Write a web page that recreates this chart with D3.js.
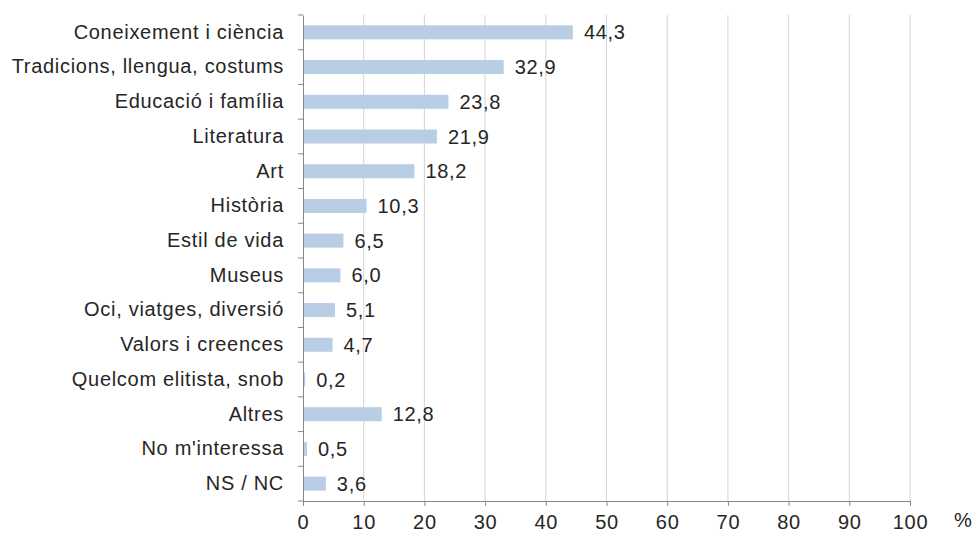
<!DOCTYPE html>
<html>
<head>
<meta charset="utf-8">
<script src="https://cdn.jsdelivr.net/npm/d3@7"></script>
<style>
  body { margin: 0; background: #fff; }
  svg text { font-family: "Liberation Sans", Arial, sans-serif; fill: #262626; letter-spacing: 0.7px; }
</style>
</head>
<body>
<svg id="chart" width="973" height="537"></svg>
<script>
const categories = ["Coneixement i ciència", "Tradicions, llengua, costums", "Educació i família",
  "Literatura", "Art", "Història", "Estil de vida", "Museus", "Oci, viatges, diversió",
  "Valors i creences", "Quelcom elitista, snob", "Altres", "No m'interessa", "NS / NC"]
const values = [44.3, 32.9, 23.8, 21.9, 18.2, 10.3, 6.5, 6.0, 5.1, 4.7, 0.2, 12.8, 0.5, 3.6]
const xTicks = [0, 10, 20, 30, 40, 50, 60, 70, 80, 90, 100]

const plotLeft = 303, plotRight = 910, plotTop = 15, plotBottom = 501
const fontSize = "20px"
const svg = d3.select("#chart")

let xScale = d3.scaleLinear().domain([0, 100]).range([plotLeft, plotRight])
let yScale = d3.scaleBand().domain(categories).range([plotTop, plotBottom])

// gridlines
svg.selectAll(".grid").data(xTicks.slice(1)).enter().append("line")
  .attr("x1", d => xScale(d)).attr("x2", d => xScale(d))
  .attr("y1", plotTop).attr("y2", plotBottom)
  .attr("stroke", "#d4d4d4").attr("stroke-width", 1)

// bars
svg.selectAll(".bar").data(values).enter().append("rect")
  .attr("x", xScale(0) + 1)
  .attr("y", (d, i) => yScale(categories[i]) + yScale.bandwidth() / 2 - 7)
  .attr("width", d => xScale(d) - xScale(0))
  .attr("height", 14)
  .attr("fill", "#b9cde5")

// value labels
svg.selectAll(".val").data(values).enter().append("text")
  .attr("x", d => xScale(d) + 12)
  .attr("y", (d, i) => yScale(categories[i]) + yScale.bandwidth() / 2)
  .attr("dy", "0.35em")
  .style("font-size", fontSize)
  .text(d => d3.format(".1f")(d).replace(".", ","))

// y axis
let y_axis = d3.axisLeft(yScale).tickSize(0).tickPadding(19)
let yg = svg.append("g").attr("transform", `translate(${plotLeft},0)`).call(y_axis)
yg.select(".domain").attr("stroke", "#888")
yg.selectAll("text").style("font-size", fontSize).attr("fill", "#262626")
// tick marks between categories
svg.selectAll(".ytick").data(d3.range(categories.length + 1)).enter().append("line")
  .attr("x1", plotLeft - 5).attr("x2", plotLeft)
  .attr("y1", i => plotTop + i * yScale.step()).attr("y2", i => plotTop + i * yScale.step())
  .attr("stroke", "#888")

// x axis
let x_axis = d3.axisBottom(xScale).tickValues(xTicks).tickSize(5).tickPadding(9)
let xg = svg.append("g").attr("transform", `translate(0,${plotBottom})`).call(x_axis)
xg.select(".domain").attr("stroke", "#888")
xg.selectAll("line").attr("stroke", "#888")
xg.selectAll("text").style("font-size", fontSize).attr("fill", "#262626")

svg.append("text").attr("x", 954).attr("y", 527).style("font-size", fontSize).text("%")
</script>
</body>
</html>
